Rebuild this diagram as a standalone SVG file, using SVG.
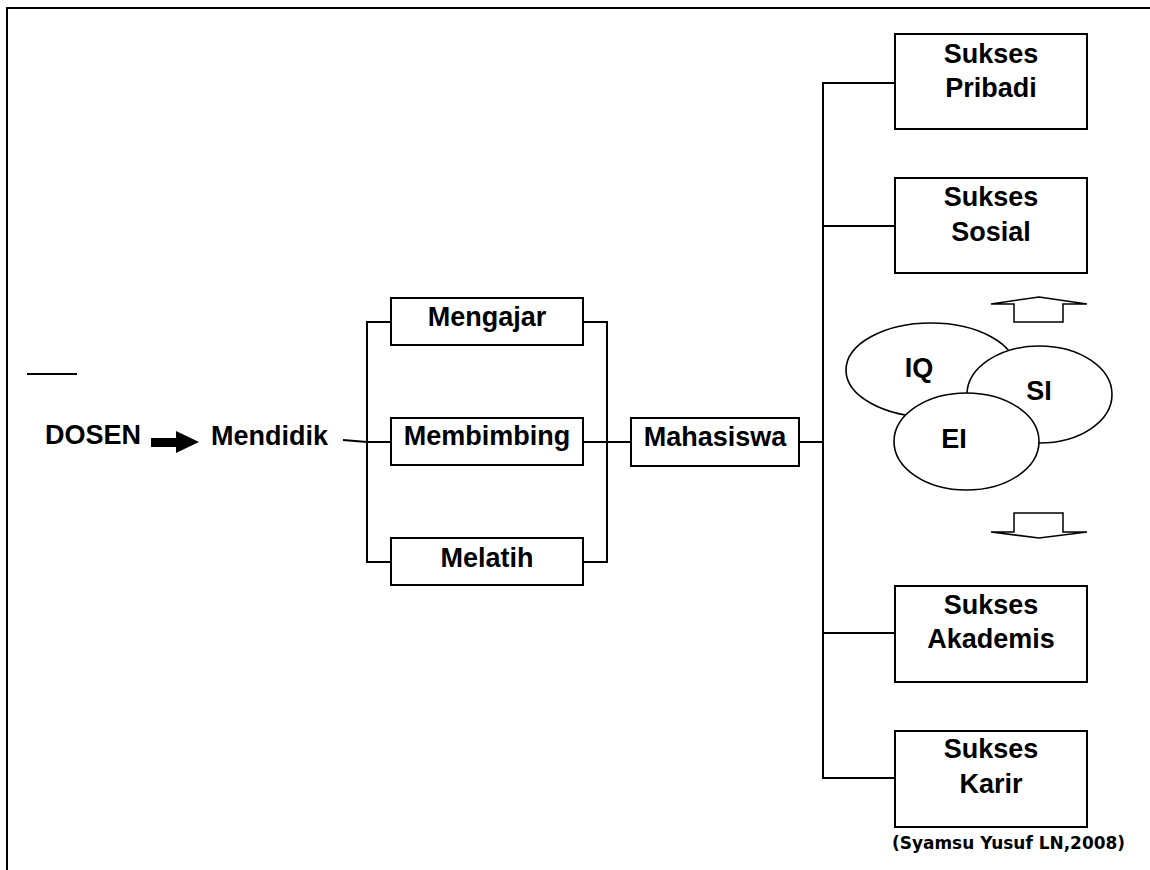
<svg xmlns="http://www.w3.org/2000/svg" width="1150" height="870" viewBox="0 0 1150 870">
<style>
.box{fill:#fff;stroke:#000;stroke-width:2}
.ell{fill:#fff;stroke:#000;stroke-width:1.6}
.ln{fill:none;stroke:#000;stroke-width:2}
.t{font-family:"Liberation Sans",Arial,sans-serif;font-weight:bold;font-size:27px;fill:#000}
.c{text-anchor:middle}
.blk{fill:#000;stroke:none}
.hol{fill:#fff;stroke:#000;stroke-width:1.5}
</style>
<rect width="1150" height="870" fill="#fff"/>
<g id="frame">
<path class="ln" d="M7 870 V8 H1150"/>
<line class="ln" x1="27" y1="374" x2="77" y2="374" stroke-width="1.5"/>
</g>
<g id="connectors">
<polygon class="blk" points="151,438 176,438 176,431 199,442 176,453 176,447 151,447"/>
<path class="ln" d="M343 440 L367 442"/>
<path class="ln" d="M391 322 H367 V562 H391"/>
<path class="ln" d="M583 322 H607 V562 H583"/>
<path class="ln" d="M367 442 H391"/>
<path class="ln" d="M583 442 H631"/>
<path class="ln" d="M799 442 H823"/>
<path class="ln" d="M895 83 H823 V778 H895"/>
<path class="ln" d="M823 226 H895"/>
<path class="ln" d="M823 633 H895"/>
<polygon class="hol" points="1039,297 1087,304 1063,304 1063,322 1014,322 1014,304 991,304"/>
<polygon class="hol" points="1014,513 1063,513 1063,532 1087,532 1039,538 991,532 1014,532"/>
</g>
<g id="dosen"><text class="t" x="45" y="444" font-size="26">DOSEN</text></g>
<g id="mendidik"><text class="t" x="211" y="445" font-size="27.5">Mendidik</text></g>
<g id="mengajar"><rect class="box" x="391" y="298" width="192" height="47"/><text class="t c" x="487" y="326">Mengajar</text></g>
<g id="membimbing"><rect class="box" x="391" y="418" width="192" height="47"/><text class="t c" x="487" y="445">Membimbing</text></g>
<g id="melatih"><rect class="box" x="391" y="538" width="192" height="47"/><text class="t c" x="487" y="567">Melatih</text></g>
<g id="mahasiswa"><rect class="box" x="631" y="418" width="168" height="48"/><text class="t c" x="715" y="446">Mahasiswa</text></g>
<g id="sukses-pribadi"><rect class="box" x="895" y="34" width="192" height="95"/><text class="t c" x="991" y="63">Sukses</text><text class="t c" x="991" y="97">Pribadi</text></g>
<g id="sukses-sosial"><rect class="box" x="895" y="178" width="192" height="95"/><text class="t c" x="991" y="206">Sukses</text><text class="t c" x="991" y="241">Sosial</text></g>
<g id="sukses-akademis"><rect class="box" x="895" y="586" width="192" height="96"/><text class="t c" x="991" y="614">Sukses</text><text class="t c" x="991" y="648">Akademis</text></g>
<g id="sukses-karir"><rect class="box" x="895" y="731" width="192" height="96"/><text class="t c" x="991" y="758">Sukses</text><text class="t c" x="991" y="793">Karir</text></g>
<g id="iq"><ellipse class="ell" cx="931" cy="370" rx="85" ry="47"/><text class="t c" x="919" y="377">IQ</text></g>
<g id="si"><ellipse class="ell" cx="1039.5" cy="394.5" rx="72.5" ry="48.5"/><text class="t c" x="1039" y="400">SI</text></g>
<g id="ei"><ellipse class="ell" cx="966.5" cy="441.5" rx="72.5" ry="48.5"/><text class="t c" x="954" y="448">EI</text></g>
<g id="citation"><text x="892" y="849" font-family="'DejaVu Sans',Verdana,sans-serif" font-weight="bold" font-size="18.5" textLength="233" lengthAdjust="spacingAndGlyphs">(Syamsu Yusuf LN,2008)</text></g>
</svg>
